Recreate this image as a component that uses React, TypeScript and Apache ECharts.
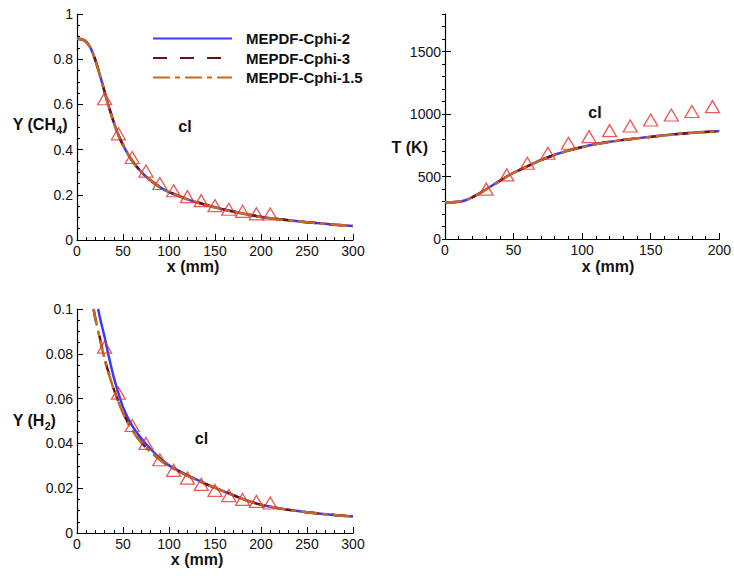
import React, { useEffect, useRef } from "react";
import * as echarts from "echarts";

const FONT = "'Liberation Sans', Arial, Helvetica, sans-serif";

const seriesNames = ["MEPDF-Cphi-2", "MEPDF-Cphi-3", "MEPDF-Cphi-1.5"];

// CH4 mass fraction along centreline
const xCH4 = [0, 5, 10, 15, 20, 25, 30, 35, 40, 45, 50, 60, 70, 80, 90, 100, 120, 140, 160, 180, 200, 220, 240, 260, 280, 300];
const ch4Cphi2 = [0.89, 0.888, 0.877, 0.848, 0.795, 0.728, 0.655, 0.585, 0.52, 0.465, 0.42, 0.35, 0.3, 0.263, 0.234, 0.212, 0.18, 0.155, 0.135, 0.117, 0.102, 0.092, 0.083, 0.075, 0.068, 0.062];
const ch4Cphi3 = [0.89, 0.888, 0.877, 0.848, 0.796, 0.729, 0.656, 0.586, 0.521, 0.466, 0.421, 0.351, 0.301, 0.264, 0.235, 0.213, 0.181, 0.156, 0.135, 0.118, 0.103, 0.092, 0.083, 0.075, 0.068, 0.062];
const ch4Cphi15 = [0.89, 0.888, 0.877, 0.847, 0.794, 0.727, 0.654, 0.584, 0.519, 0.464, 0.419, 0.349, 0.3, 0.263, 0.234, 0.212, 0.18, 0.155, 0.134, 0.117, 0.102, 0.091, 0.082, 0.075, 0.068, 0.062];

// Temperature along centreline
const xT = [0, 5, 10, 15, 20, 25, 30, 35, 40, 45, 50, 60, 70, 80, 90, 100, 110, 120, 130, 140, 150, 160, 170, 180, 190, 200];
const tCphi2 = [295, 295, 298, 310, 335, 365, 398, 432, 466, 500, 530, 582, 632, 674, 708, 736, 760, 778, 793, 805, 818, 830, 841, 850, 857, 863];
const tCphi3 = [295, 295, 298, 310, 334, 364, 397, 431, 465, 499, 529, 581, 631, 673, 707, 735, 759, 777, 792, 805, 817, 829, 840, 849, 856, 862];
const tCphi15 = [295, 295, 298, 310, 334, 364, 397, 431, 465, 499, 529, 581, 631, 673, 707, 735, 759, 777, 792, 804, 817, 829, 840, 849, 856, 862];

// H2 mass fraction along centreline
const xH2Cphi2 = [23, 25, 30, 35, 40, 45, 50, 60, 70, 80, 90, 100, 120, 140, 160, 180, 200, 220, 240, 260, 280, 300];
const h2Cphi2 = [0.1, 0.096, 0.0875, 0.078, 0.0695, 0.0625, 0.0562, 0.0478, 0.0422, 0.0375, 0.0335, 0.0302, 0.0258, 0.0219, 0.0185, 0.0152, 0.0126, 0.011, 0.0098, 0.0088, 0.008, 0.0074];
const xH2Other = [18, 20, 25, 30, 35, 40, 45, 50, 60, 70, 80, 90, 100, 120, 140, 160, 180, 200, 220, 240, 260, 280, 300];
const h2Cphi3 = [0.1, 0.0958, 0.0868, 0.0778, 0.0707, 0.0642, 0.0587, 0.0537, 0.0459, 0.0404, 0.0362, 0.0328, 0.0298, 0.0256, 0.0218, 0.0185, 0.0152, 0.0126, 0.011, 0.0098, 0.0088, 0.008, 0.0074];
const h2Cphi15 = [0.1, 0.0955, 0.0865, 0.0775, 0.0705, 0.064, 0.0585, 0.0535, 0.0458, 0.0403, 0.0362, 0.0328, 0.0298, 0.0256, 0.0218, 0.0185, 0.0152, 0.0126, 0.011, 0.0098, 0.0088, 0.008, 0.0074];

// Experimental data (triangles)
const xExp = [30, 45, 60, 75, 90, 105, 120, 135, 150, 165, 180, 195, 210];
const ch4Exp = [0.625, 0.47, 0.365, 0.305, 0.25, 0.218, 0.192, 0.174, 0.152, 0.136, 0.127, 0.116, 0.115];
const h2Exp = [0.083, 0.0624, 0.048, 0.04, 0.0327, 0.028, 0.0245, 0.0217, 0.019, 0.0167, 0.015, 0.0141, 0.0134];
const xTExp = [30, 45, 60, 75, 90, 105, 120, 135, 150, 165, 180, 195];
const tExp = [399, 513, 606, 686, 766, 819, 867, 904, 952, 992, 1020, 1059];

const pairs = (xs: number[], ys: number[]) => xs.map((x, i) => [x, ys[i]]);

const lineStyles = [
  { color: "#3a3aff", width: 2.5, type: "solid" as any },
  { color: "#6e0e0e", width: 2.5, type: [14, 13] as any },
  { color: "#c4691f", width: 2.5, type: [17, 5, 5, 5] as any },
];

function lineSeries(idx: number, xi: number, xs: number[], ys: number[]) {
  return {
    type: "line",
    name: seriesNames[idx],
    xAxisIndex: xi,
    yAxisIndex: xi,
    data: pairs(xs, ys),
    symbol: "none",
    smooth: 0.3,
    lineStyle: lineStyles[idx],
    itemStyle: { color: lineStyles[idx].color },
    z: 2 + idx,
  };
}

function expSeries(xi: number, xs: number[], ys: number[]) {
  return {
    type: "scatter",
    name: "Experiment",
    xAxisIndex: xi,
    yAxisIndex: xi,
    data: pairs(xs, ys),
    symbol: "triangle",
    symbolSize: [14, 12],
    itemStyle: { color: "rgba(255,255,255,0)", borderColor: "#e8302c", borderWidth: 1.3 },
    z: 6,
  };
}

const axisBase = (min: number, max: number, interval: number, minorSplit: number) => ({
  type: "value",
  min,
  max,
  interval,
  axisLine: { show: true, onZero: false, lineStyle: { color: "#000", width: 1.2 } },
  axisTick: { show: true, inside: true, length: 6, lineStyle: { color: "#000", width: 1 } },
  minorTick: { show: minorSplit > 0, splitNumber: minorSplit || 5, length: 3, lineStyle: { color: "#000", width: 1 } },
  splitLine: { show: false },
  minorSplitLine: { show: false },
  axisLabel: {
    color: "#111",
    fontSize: 14,
    fontFamily: FONT,
    margin: 4,
    formatter: (v: number) => String(+v.toFixed(4)),
  },
});

export default function App() {
  const ref = useRef<HTMLDivElement>(null);
  useEffect(() => {
    if (!ref.current) return;
    const chart = echarts.init(ref.current, undefined, { renderer: "svg" });
    const bold = (size: number) => ({ fontFamily: FONT, fontWeight: "bold", fontSize: size, fill: "#111" });
    const txt = (text: string, x: number, y: number, size: number, align: string = "center") => ({
      type: "text",
      x,
      y,
      style: { text, ...bold(size), align, verticalAlign: "middle" },
      z: 10,
    });
    chart.setOption({
      animation: false,
      backgroundColor: "#fff",
      grid: [
        { left: 77, top: 14, width: 276, height: 226 },
        { left: 445, top: 14, width: 275, height: 225 },
        { left: 77, top: 309, width: 276, height: 224 },
      ],
      xAxis: [
        { ...axisBase(0, 300, 50, 5), gridIndex: 0 },
        { ...axisBase(0, 200, 50, 5), gridIndex: 1 },
        { ...axisBase(0, 300, 50, 5), gridIndex: 2 },
      ],
      yAxis: [
        { ...axisBase(0, 1, 0.2, 4), gridIndex: 0 },
        {
          ...axisBase(0, 1800, 500, 0),
          gridIndex: 1,
          axisLabel: { ...axisBase(0, 1800, 500, 0).axisLabel, showMaxLabel: false },
        },
        { ...axisBase(0, 0.1, 0.02, 4), gridIndex: 2 },
        {
          ...axisBase(0, 1800, 100, 0),
          gridIndex: 1,
          axisLine: { show: false },
          axisLabel: { show: false },
          axisTick: { show: true, inside: true, length: 3, lineStyle: { color: "#000", width: 1 } },
        },
      ],
      legend: {
        data: seriesNames,
        orient: "vertical",
        left: 147,
        top: 26,
        itemWidth: 79,
        itemHeight: 14,
        itemGap: 4.5,
        itemStyle: { opacity: 0 },
        textStyle: { fontFamily: FONT, fontWeight: "bold", fontSize: 15, color: "#111", padding: [0, 0, 0, 9] },
        selectedMode: false,
      },
      series: [
        lineSeries(0, 0, xCH4, ch4Cphi2),
        lineSeries(1, 0, xCH4, ch4Cphi3),
        lineSeries(2, 0, xCH4, ch4Cphi15),
        expSeries(0, xExp, ch4Exp),
        lineSeries(0, 1, xT, tCphi2),
        lineSeries(1, 1, xT, tCphi3),
        lineSeries(2, 1, xT, tCphi15),
        expSeries(1, xTExp, tExp),
        lineSeries(0, 2, xH2Cphi2, h2Cphi2),
        lineSeries(1, 2, xH2Other, h2Cphi3),
        lineSeries(2, 2, xH2Other, h2Cphi15),
        expSeries(2, xExp, h2Exp),
      ],
      graphic: [
        txt("Y (CH", 12.7, 124, 16, "left"),
        txt("4", 56.3, 129.5, 10.5, "left"),
        txt(")", 62.2, 124, 16, "left"),
        txt("x (mm)", 193, 266.5, 16),
        txt("cl", 185, 126.5, 16),
        txt("T (K)", 428, 147, 16, "right"),
        txt("x (mm)", 608, 266.5, 16),
        txt("cl", 595, 112.5, 16),
        txt("Y (H", 12.7, 420, 16, "left"),
        txt("2", 44.7, 425.5, 10.5, "left"),
        txt(")", 50.6, 420, 16, "left"),
        txt("x (mm)", 197, 559, 16),
        txt("cl", 201.5, 438, 16),
      ],
    });
    return () => chart.dispose();
  }, []);
  return (
    <div
      ref={ref}
      style={{ position: "absolute", left: 0, top: 0, width: 734, height: 579, background: "#fff" }}
    />
  );
}
